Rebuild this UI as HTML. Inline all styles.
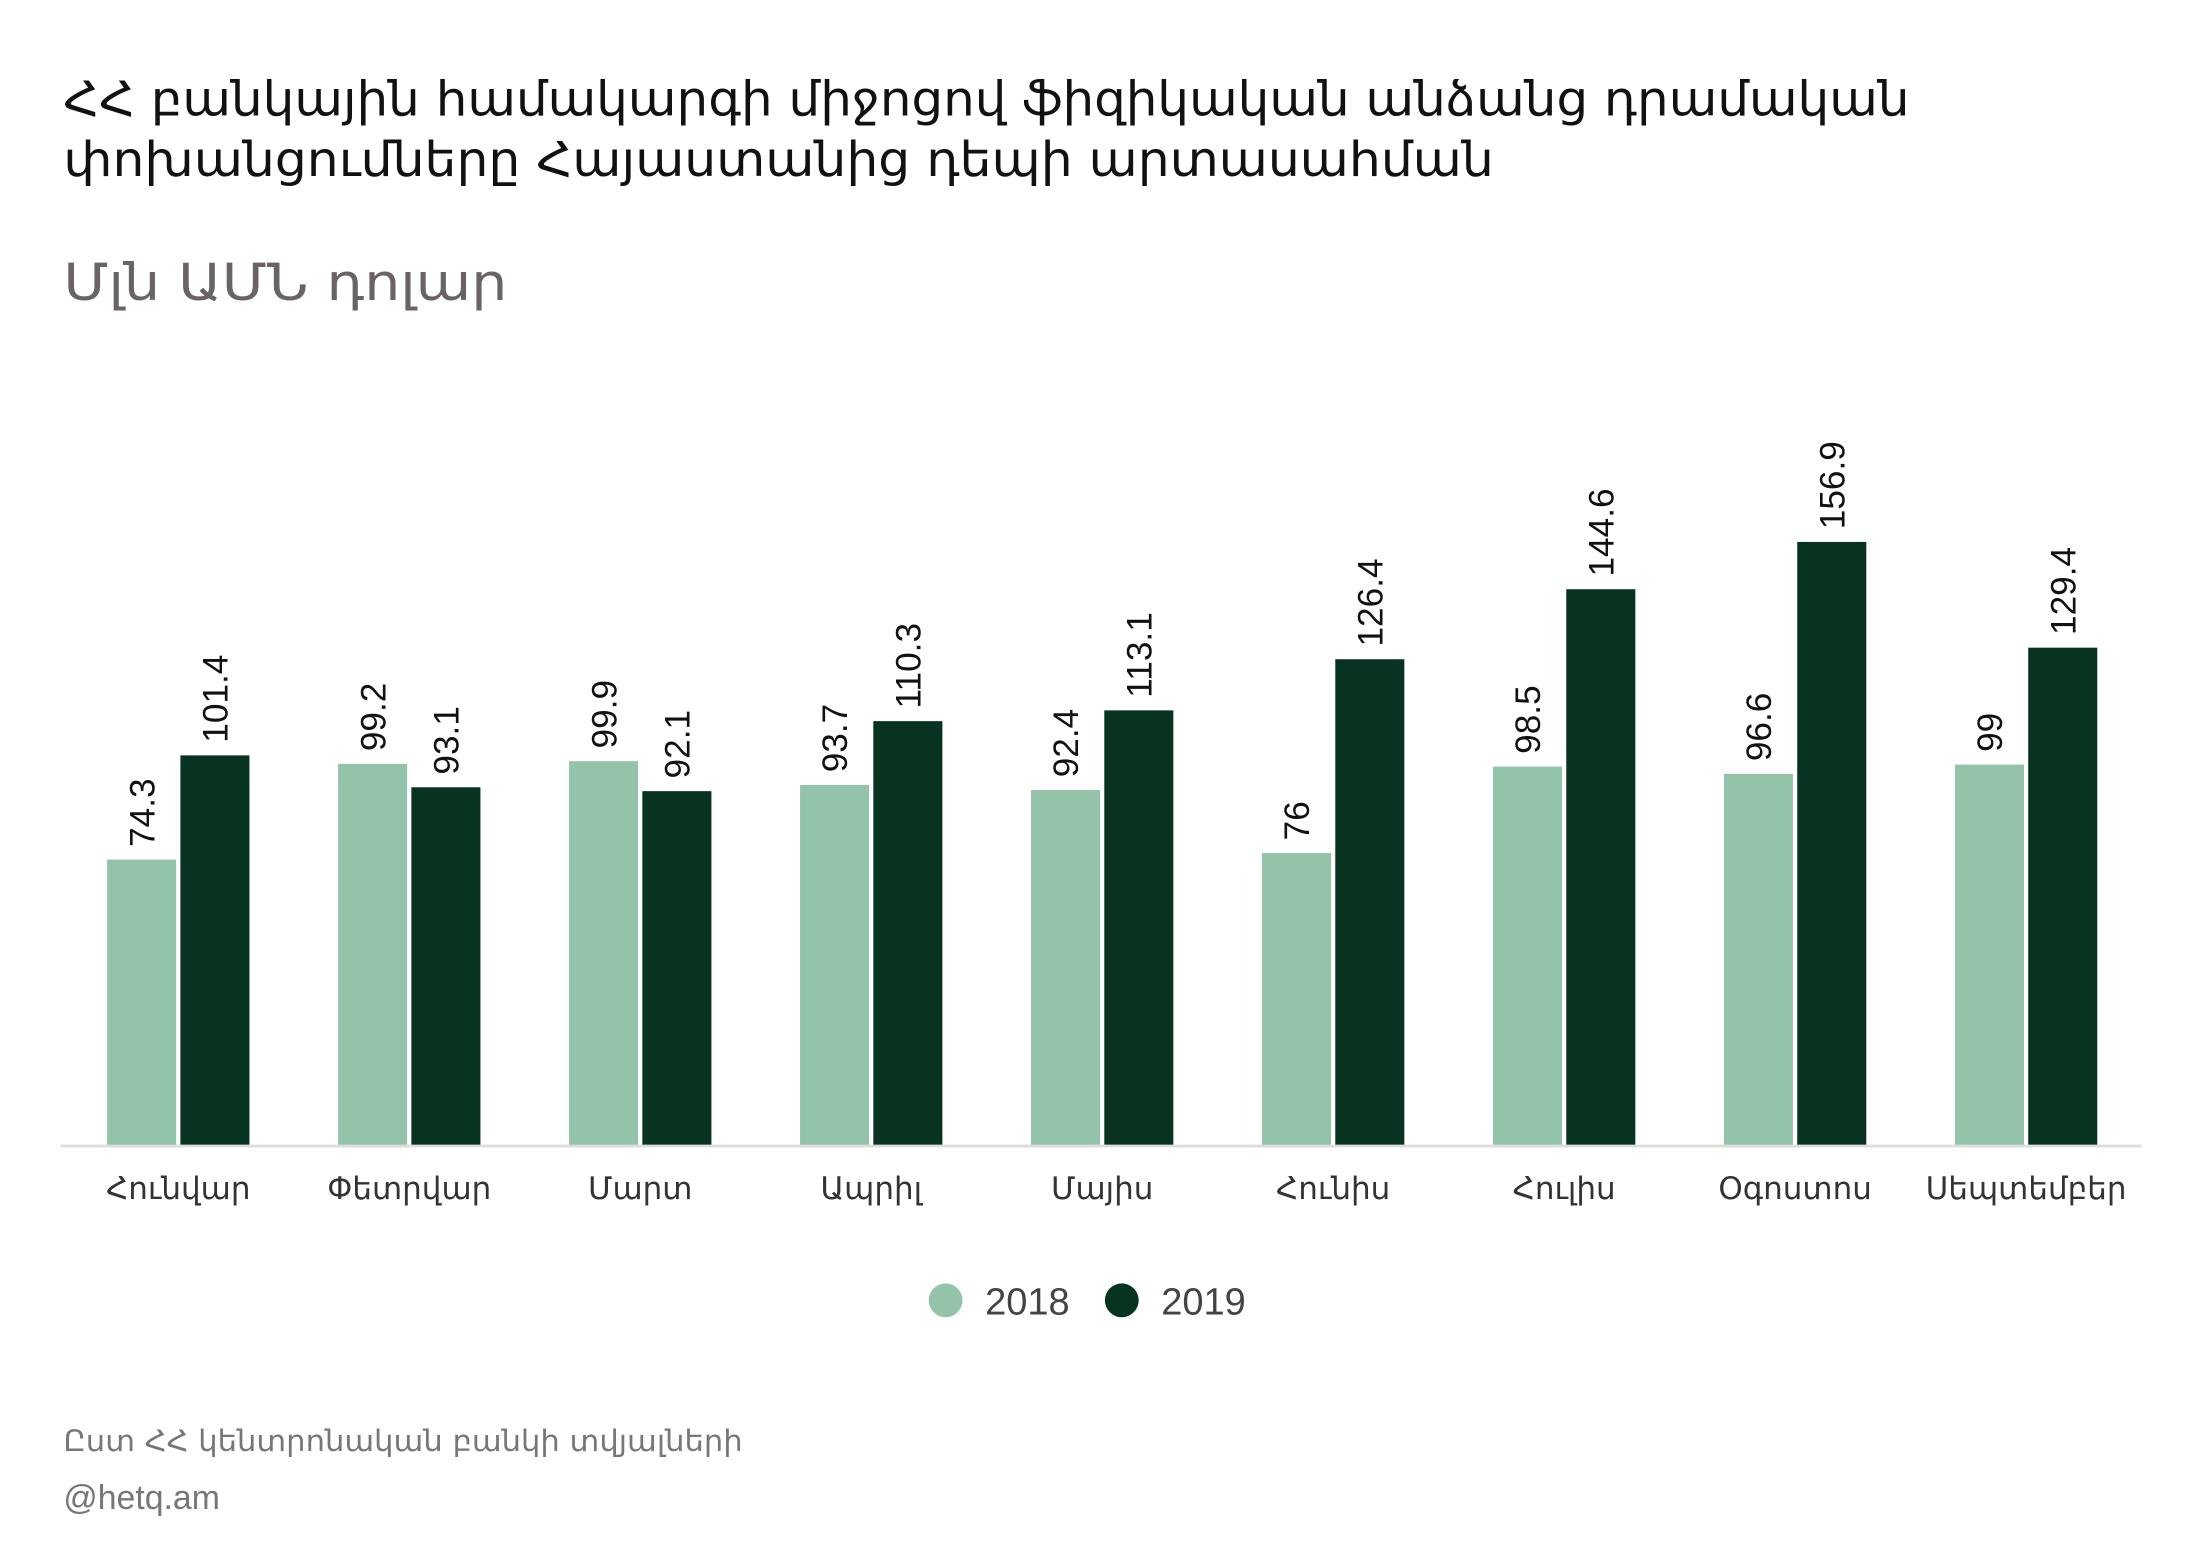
<!DOCTYPE html>
<html><head><meta charset="utf-8"><style>
html,body{margin:0;padding:0;background:#fff;}
svg{display:block;font-family:"DejaVu Sans","Liberation Sans",sans-serif;}
</style></head><body>
<svg id="chart" width="2190" height="1568" viewBox="0 0 1554 1113" preserveAspectRatio="none" xmlns="http://www.w3.org/2000/svg">
<text x="45" y="82" font-size="34" fill="#111" textLength="1310" lengthAdjust="spacingAndGlyphs">ՀՀ բանկային համակարգի միջոցով ֆիզիկական անձանց դրամական</text>
<text x="45" y="125" font-size="34" fill="#111" textLength="1015" lengthAdjust="spacingAndGlyphs">փոխանցումները  Հայաստանից դեպի արտասահման</text>
<text x="45" y="213" font-size="36" fill="#6b6363" textLength="315" lengthAdjust="spacingAndGlyphs">Մլն ԱՄՆ  դոլար</text>
<g id="bars"></g>
<line x1="43" y1="813.5" x2="1520" y2="813.5" stroke="#ddd" stroke-width="2"/>
<g id="xlabels"></g>
<g>
<circle cx="671" cy="923" r="12" fill="#93c4aa"/>
<text x="699" y="933" font-size="27" fill="#444" font-family="Liberation Sans, sans-serif">2018</text>
<circle cx="796" cy="923" r="12" fill="#073320"/>
<text x="824" y="933" font-size="27" fill="#444" font-family="Liberation Sans, sans-serif">2019</text>
</g>
<text x="45" y="1030" font-size="21" fill="#777" textLength="482" lengthAdjust="spacingAndGlyphs">Ըստ ՀՀ կենտրոնական բանկի տվյալների</text>
<text x="45" y="1071" font-size="24" fill="#777" font-family="Liberation Sans, sans-serif">@hetq.am</text>
</svg>
<script>
const months = ["Հունվար","Փետրվար","Մարտ","Ապրիլ","Մայիս","Հունիս","Հուլիս","Օգոստոս","Սեպտեմբեր"];
const values2018 = [74.3,99.2,99.9,93.7,92.4,76,98.5,96.6,99];
const values2019 = [101.4,93.1,92.1,110.3,113.1,126.4,144.6,156.9,129.4];
const labels2018 = ["74.3","99.2","99.9","93.7","92.4","76","98.5","96.6","99"];
const labels2019 = ["101.4","93.1","92.1","110.3","113.1","126.4","144.6","156.9","129.4"];

const NS = "http://www.w3.org/2000/svg";
const baseY = 813, pxPerUnit = 2.73, x0 = 76, step = 163.9, barW = 49, gap = 3;
function yScale(v){ return baseY - v * pxPerUnit; }
function xScale(i, s){ return x0 + i * step + s * (barW + gap); }
const bars = document.getElementById('bars');
const xl = document.getElementById('xlabels');
function addBar(i, s, v, lab, color, yr){
  const x = xScale(i, s), y = yScale(v);
  const r = document.createElementNS(NS,'rect');
  r.setAttribute('x', x); r.setAttribute('y', y);
  r.setAttribute('width', barW); r.setAttribute('height', baseY - y);
  r.setAttribute('fill', color);
  
  
  bars.appendChild(r);
  const t = document.createElementNS(NS,'text');
  const cx = x + barW/2 + 9, cy = y - 9;
  t.setAttribute('x', cx); t.setAttribute('y', cy);
  t.setAttribute('transform', 'rotate(-90 ' + cx + ' ' + cy + ')');
  t.setAttribute('font-size', '25');
  t.setAttribute('font-family', 'Liberation Sans, sans-serif');
  t.setAttribute('fill', '#111');
  t.textContent = lab;
  
  
  bars.appendChild(t);
}
months.forEach((m, i) => {
  addBar(i, 0, values2018[i], labels2018[i], '#93c4aa', '2018');
  addBar(i, 1, values2019[i], labels2019[i], '#073320', '2019');
  const t = document.createElementNS(NS,'text');
  t.setAttribute('x', xScale(i,0) + barW + gap/2);
  t.setAttribute('y', 851);
  t.setAttribute('text-anchor', 'middle');
  t.setAttribute('font-size', '22');
  t.setAttribute('fill', '#333');
  t.textContent = m;
  
  
  xl.appendChild(t);
});
</script>
</body></html>
